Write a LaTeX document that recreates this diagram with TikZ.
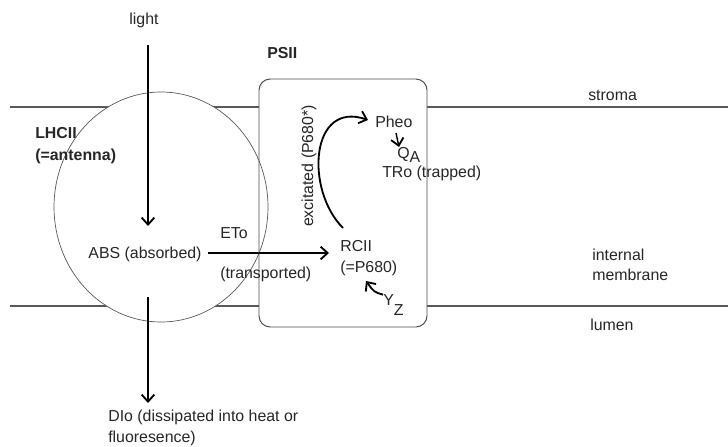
\documentclass[tikz,border=0pt]{standalone}
\usepackage{fontspec}
\setmainfont{Liberation Sans}
\usetikzlibrary{arrows.meta}

\tikzset{
  lbl/.style={inner sep=0pt, text=black!85, font=\fontsize{11.3}{14.6}\selectfont, align=left},
  bold lbl/.style={lbl, font=\fontsize{11.3}{15.6}\selectfont\bfseries},
  flow/.style={line width=1.3pt, -{Straight Barb[length=5pt,width=9pt,line width=1.3pt]}},
  membrane/.style={draw=black!65, line width=0.9pt},
}

\begin{document}
\begin{tikzpicture}[x=0.025cm, y=-0.025cm]
\useasboundingbox (0,0) rectangle (728,446);
% membrane
\draw[membrane] (10,107) -- (728,107) (10,306) -- (728,306);
\fill[white] (161,207) ellipse [x radius=107, y radius=115];
\fill[white, rounded corners=8] (259,79) rectangle (427,327);
% antenna and PSII outline
\draw[black!65, line width=0.5pt] (161,207) ellipse [x radius=107, y radius=115];
\draw[black!70, line width=0.7pt, rounded corners=8] (259,79) rectangle (427,327);
% labels
\node[lbl] (light) at (144,20) {light};
\node[bold lbl, anchor=west] (psii) at (267,53) {PSII};
\node[bold lbl, anchor=west] (lhcii) at (35,146) {LHCII\\(=antenna)};
\node[lbl] (abs) at (145,254) {ABS (absorbed)};
\node[lbl, anchor=west] (eto) at (220,233) {ETo};
\node[lbl, anchor=west] (trans) at (220,274) {(transported)};
\node[lbl, anchor=west] (rcii) at (340,258) {RCII\\(=P680)};
\node[lbl, anchor=west] (pheo) at (375,122) {Pheo};
\node[lbl, anchor=west] (qa) at (397,155) {Q\raisebox{-0.55ex}{A}};
\node[lbl, anchor=west] (tro) at (382,173) {TRo (trapped)};
\node[lbl, anchor=west] (yz) at (383,305) {Y\raisebox{-1.1ex}{Z}};
\node[lbl, rotate=90] (exc) at (309,166) {excitated (P680*)};
\node[lbl, anchor=west] (stroma) at (588,95) {stroma};
\node[lbl, anchor=west] (intm) at (592,265) {internal\\membrane};
\node[lbl, anchor=west] (lumen) at (590,325) {lumen};
\node[lbl, anchor=west] (dio) at (108,428) {DIo (dissipated into heat or\\fluoresence)};
% arrow ends
\coordinate (light-in) at (148,45);
\coordinate (abs-top) at (148,226);
\coordinate (abs-bot) at (148,297);
\coordinate (dio-top) at (148,403);
\coordinate (exc-start) at (343,228);
\coordinate (pheo-tip) at (368,120);
\coordinate (eto-start) at (208,253);
\coordinate (rcii-tip) at (329,253);
% arrows
\draw[flow] (light-in) -- (abs-top);
\draw[flow] (abs-bot) -- (dio-top);
\draw[flow] (eto-start) -- (rcii-tip);
\draw[flow] (exc-start) .. controls (305,190) and (310,100) .. (pheo-tip);
\draw[flow, line width=1pt] (396,133) -- (399,147);
\draw[flow] (yz.north west) .. controls (374,292) .. (366,281);
\end{tikzpicture}
\end{document}
